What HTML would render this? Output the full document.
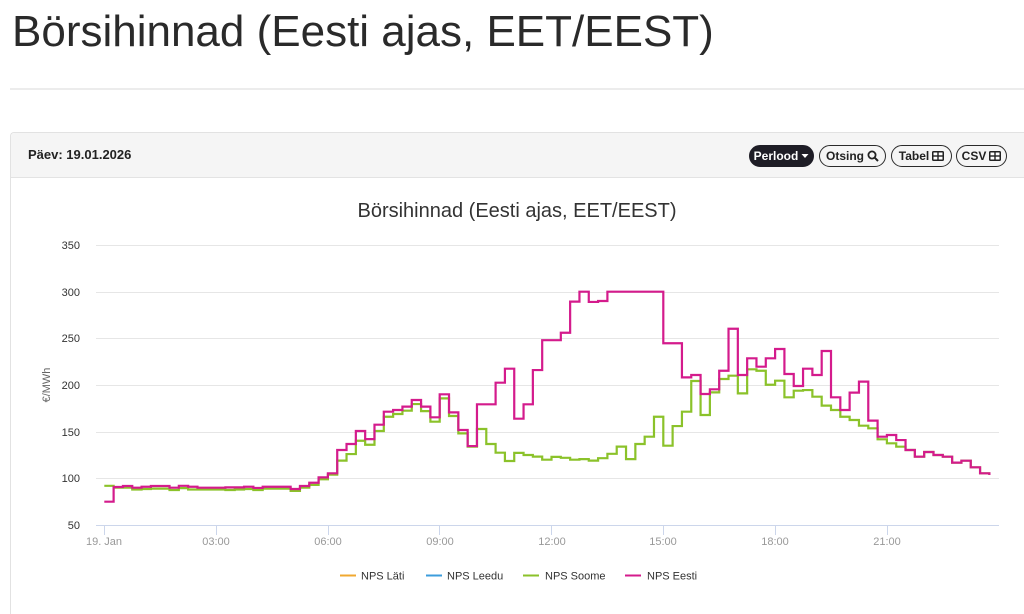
<!DOCTYPE html>
<html>
<head>
<meta charset="utf-8">
<style>
  html,body{margin:0;padding:0;background:#fff;width:1024px;height:614px;overflow:hidden;}
  #wrap{position:relative;width:1024px;height:614px;overflow:hidden;font-family:"Liberation Sans",sans-serif;background:#fff;}
  .h1{position:absolute;left:12px;top:10px;font-size:44px;line-height:44px;color:#2a2a2a;white-space:nowrap;margin:0;font-weight:normal;}
  .sep{position:absolute;left:10px;top:88px;width:1014px;height:2px;background:#ececec;}
  .card{position:absolute;left:10px;top:132px;width:1014px;height:482px;border:1px solid #e2e2e2;border-right:none;border-bottom:none;border-radius:4px 0 0 0;background:#fff;box-sizing:border-box;}
  .hdr{position:absolute;left:0;top:0;right:0;height:44px;background:#f5f5f5;border-bottom:1px solid #e3e3e3;border-radius:4px 0 0 0;}
  .day{position:absolute;left:17px;top:14px;font-size:13px;font-weight:bold;color:#222;white-space:nowrap;}
  .btn{position:absolute;top:145px;height:22px;box-sizing:border-box;border:1.5px solid #2a2a2a;border-radius:11px;display:flex;align-items:center;justify-content:center;font-size:12px;font-weight:bold;color:#222;white-space:nowrap;gap:3px;}
  .btn.dark{background:#1e1d26;color:#fff;border-color:#1e1d26;}
  svg.chart{position:absolute;left:0;top:0;}
</style>
</head>
<body>
<div id="wrap">
<div class="h1">Börsihinnad (Eesti ajas, EET/EEST)</div>
<div class="sep"></div>
<div class="card">
  <div class="hdr"><div class="day">Päev: 19.01.2026</div></div>
</div>

<div class="btn dark" style="left:749px;width:65px;">Perlood<svg width="8" height="6" viewBox="0 0 8 6"><path d="M0.5 1 L7.5 1 L4 5 Z" fill="#fff"/></svg></div>
<div class="btn" style="left:819px;width:67px;">Otsing<svg width="12" height="12" viewBox="0 0 12 12"><circle cx="5" cy="5" r="3.6" fill="none" stroke="#222" stroke-width="1.8"/><line x1="7.6" y1="7.6" x2="11" y2="11" stroke="#222" stroke-width="2"/></svg></div>
<div class="btn" style="left:891px;width:61px;">Tabel<svg width="12" height="10" viewBox="0 0 12 10"><rect x="0" y="0" width="12" height="10" rx="1.5" fill="#222"/><rect x="1.5" y="1.5" width="3.8" height="2.8" fill="#fff"/><rect x="6.7" y="1.5" width="3.8" height="2.8" fill="#fff"/><rect x="1.5" y="5.7" width="3.8" height="2.8" fill="#fff"/><rect x="6.7" y="5.7" width="3.8" height="2.8" fill="#fff"/></svg></div>
<div class="btn" style="left:956px;width:51px;">CSV<svg width="12" height="10" viewBox="0 0 12 10"><rect x="0" y="0" width="12" height="10" rx="1.5" fill="#222"/><rect x="1.5" y="1.5" width="3.8" height="2.8" fill="#fff"/><rect x="6.7" y="1.5" width="3.8" height="2.8" fill="#fff"/><rect x="1.5" y="5.7" width="3.8" height="2.8" fill="#fff"/><rect x="6.7" y="5.7" width="3.8" height="2.8" fill="#fff"/></svg></div>

<svg class="chart" width="1024" height="614" viewBox="0 0 1024 614" xmlns="http://www.w3.org/2000/svg" font-family="Liberation Sans, sans-serif">
  <text x="517" y="217" text-anchor="middle" font-size="20" fill="#333">Börsihinnad (Eesti ajas, EET/EEST)</text>
  <g stroke="#e6e6e6" stroke-width="1">
    <line x1="96" y1="245.5" x2="999" y2="245.5"/>
    <line x1="96" y1="292.5" x2="999" y2="292.5"/>
    <line x1="96" y1="338.5" x2="999" y2="338.5"/>
    <line x1="96" y1="385.5" x2="999" y2="385.5"/>
    <line x1="96" y1="432.5" x2="999" y2="432.5"/>
    <line x1="96" y1="478.5" x2="999" y2="478.5"/>
  </g>
  <line x1="96" y1="525.5" x2="999" y2="525.5" stroke="#ccd6eb" stroke-width="1"/>
  <g stroke="#ccd6eb" stroke-width="1">
    <line x1="104.5" y1="525" x2="104.5" y2="535"/>
    <line x1="216.5" y1="525" x2="216.5" y2="535"/>
    <line x1="328.5" y1="525" x2="328.5" y2="535"/>
    <line x1="439.5" y1="525" x2="439.5" y2="535"/>
    <line x1="551.5" y1="525" x2="551.5" y2="535"/>
    <line x1="663.5" y1="525" x2="663.5" y2="535"/>
    <line x1="775.5" y1="525" x2="775.5" y2="535"/>
    <line x1="887.5" y1="525" x2="887.5" y2="535"/>
  </g>
  <g font-size="11" fill="#333" text-anchor="end">
    <text x="80" y="249">350</text>
    <text x="80" y="296">300</text>
    <text x="80" y="342">250</text>
    <text x="80" y="389">200</text>
    <text x="80" y="436">150</text>
    <text x="80" y="482">100</text>
    <text x="80" y="529">50</text>
  </g>
  <text transform="translate(50 385) rotate(-90)" text-anchor="middle" font-size="11" fill="#666">€/MWh</text>
  <g font-size="11" fill="#999" text-anchor="middle">
    <text x="104" y="545">19. Jan</text>
    <text x="216" y="545">03:00</text>
    <text x="328" y="545">06:00</text>
    <text x="440" y="545">09:00</text>
    <text x="552" y="545">12:00</text>
    <text x="663" y="545">15:00</text>
    <text x="775" y="545">18:00</text>
    <text x="887" y="545">21:00</text>
  </g>
  <g transform="translate(104.3 571.67) scale(9.3167 -0.93333)" fill="none" stroke-linejoin="miter">
    <path vector-effect="non-scaling-stroke" stroke="#8bc22a" stroke-width="2.2" d="M0 92 H1 V90 H3 V88 H4 V88.5 H5 V89 H7 V87.5 H8 V89.5 H9 V88 H13 V87.5 H14 V88 H15 V88.5 H16 V87.5 H17 V89 H20 V86.5 H21 V90 H22 V93 H23 V99 H24 V104 H25 V119 H26 V126 H27 V140.3 H28 V136 H29 V150.7 H30 V166 H31 V168.9 H32 V172.5 H33 V179.6 H34 V172 H35 V160.7 H36 V185.7 H37 V166.8 H38 V148.2 H39 V134 H40 V152.9 H41 V136.8 H42 V127.5 H43 V118.6 H44 V127.3 H45 V125 H46 V123.3 H47 V120 H48 V123 H49 V122 H50 V120 H51 V120.6 H52 V119 H53 V121.6 H54 V126.3 H55 V134 H56 V120.6 H57 V136.8 H58 V144.6 H59 V166 H60 V135 H61 V156 H62 V171.4 H63 V204.3 H64 V167.9 H65 V192.1 H66 V206.4 H67 V210 H68 V191 H69 V216.8 H70 V215.3 H71 V200.3 H72 V204.6 H73 V186.8 H74 V193.9 H75 V194.6 H76 V187.5 H77 V177.9 H78 V173.2 H79 V166 H80 V162.5 H81 V156.4 H82 V153.6 H83 V141.8 H84 V137.5 H85 V133.9 H86 V130.4 H87 V123.2 H88 V128.2 H89 V125 H90 V123.2 H91 V116.8 H92 V118.9 H93 V111.8 H94 V105.4 H95 V103.6"/>
    <path vector-effect="non-scaling-stroke" stroke="#d41b8c" stroke-width="2.2" d="M0 75 H1 V90.7 H2 V91.8 H3 V90 H4 V91 H5 V91.8 H7 V90 H8 V92 H9 V91 H10 V90 H13 V90.3 H15 V91 H16 V89.7 H17 V91 H20 V88.6 H21 V91.8 H22 V95.3 H23 V101 H24 V105.4 H25 V130.4 H26 V136.8 H27 V150.7 H28 V142 H29 V157.5 H30 V171.4 H31 V173.2 H32 V176.8 H33 V183.9 H34 V176.8 H35 V165.4 H36 V190 H37 V170.7 H38 V151.8 H39 V134.6 H40 V179.3 H42 V202.5 H43 V217.5 H44 V163.9 H45 V179.3 H46 V216 H47 V248 H49 V256 H50 V289.3 H51 V300 H52 V289 H53 V290 H54 V300 H60 V244.7 H62 V208.2 H63 V210.7 H64 V190.4 H65 V195.4 H66 V215.3 H67 V260.3 H68 V210.7 H69 V228.6 H70 V219.6 H71 V228.6 H72 V238.6 H73 V211.8 H74 V198.9 H75 V217.5 H76 V210.7 H77 V236.4 H78 V186.8 H79 V173.2 H80 V191.8 H81 V203.6 H82 V161.8 H83 V144.6 H84 V146.4 H85 V141 H86 V130.4 H87 V123.2 H88 V128.2 H89 V125 H90 V123.2 H91 V116.8 H92 V118.9 H93 V111.8 H94 V105.4 H95 V103.6"/>
  </g>
  <g stroke-width="2">
    <line x1="340" y1="575.5" x2="356" y2="575.5" stroke="#f0a830"/>
    <line x1="426" y1="575.5" x2="442" y2="575.5" stroke="#3c9ddc"/>
    <line x1="523" y1="575.5" x2="539" y2="575.5" stroke="#8bc22a"/>
    <line x1="625" y1="575.5" x2="641" y2="575.5" stroke="#d41b8c"/>
  </g>
  <g font-size="11" fill="#333">
    <text x="361" y="579.5">NPS Läti</text>
    <text x="447" y="579.5">NPS Leedu</text>
    <text x="545" y="579.5">NPS Soome</text>
    <text x="647" y="579.5">NPS Eesti</text>
  </g>
</svg>
</div>
</body>
</html>
